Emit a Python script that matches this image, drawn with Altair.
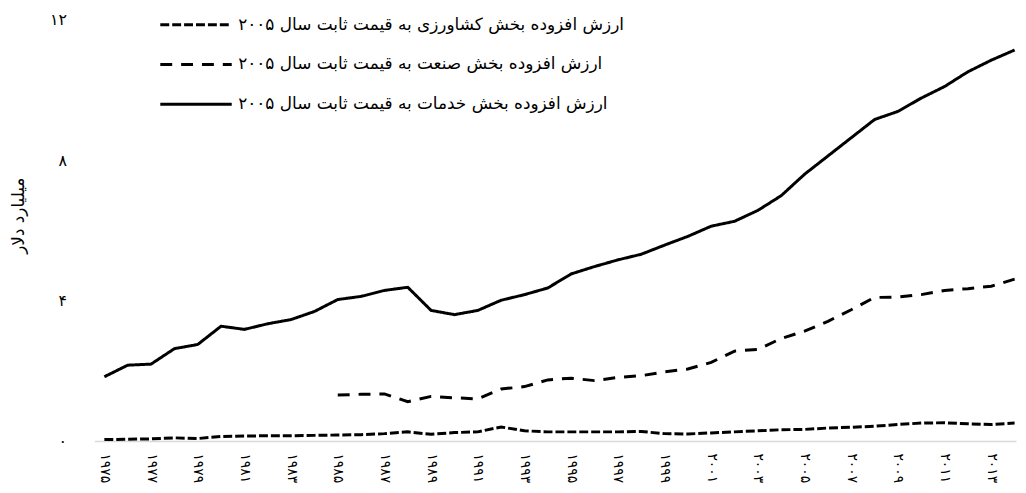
import altair as alt
import pandas as pd

years = list(range(1975, 2015))
industry_years = list(range(1985, 2015))

series_names = [
    "ارزش افزوده بخش کشاورزی به قیمت ثابت سال ۲۰۰۵",
    "ارزش افزوده بخش صنعت به قیمت ثابت سال ۲۰۰۵",
    "ارزش افزوده بخش خدمات به قیمت ثابت سال ۲۰۰۵",
]

agriculture = [0.04, 0.05, 0.06, 0.09, 0.07, 0.13, 0.14, 0.15, 0.15, 0.16,
               0.17, 0.18, 0.21, 0.26, 0.19, 0.24, 0.26, 0.40, 0.29, 0.26,
               0.26, 0.26, 0.26, 0.27, 0.21, 0.20, 0.23, 0.26, 0.29, 0.32,
               0.33, 0.37, 0.39, 0.42, 0.47, 0.51, 0.52, 0.49, 0.47, 0.51]

industry = [1.31, 1.33, 1.34, 1.12, 1.27, 1.23, 1.20, 1.48, 1.55, 1.74,
            1.79, 1.72, 1.81, 1.86, 1.97, 2.05, 2.24, 2.56, 2.61, 2.92,
            3.13, 3.41, 3.74, 4.09, 4.10, 4.17, 4.29, 4.34, 4.41, 4.61]

services = [1.83, 2.16, 2.19, 2.63, 2.75, 3.27, 3.18, 3.34, 3.46, 3.69,
            4.03, 4.12, 4.29, 4.38, 3.72, 3.60, 3.72, 4.01, 4.17, 4.36,
            4.76, 4.97, 5.16, 5.32, 5.58, 5.83, 6.12, 6.26, 6.57, 6.99,
            7.60, 8.12, 8.64, 9.16, 9.39, 9.77, 10.10, 10.52, 10.85, 11.14]

x_tick_years = list(range(1975, 2015, 2))
y_tick_values = [0, 4, 8, 12]
persian_digits = "۰۱۲۳۴۵۶۷۸۹"
y_title = "میلیارد دلار"

rows = []
for y, v in zip(years, agriculture):
    rows.append({"year": y, "value": v, "series": series_names[0]})
for y, v in zip(industry_years, industry):
    rows.append({"year": y, "value": v, "series": series_names[1]})
for y, v in zip(years, services):
    rows.append({"year": y, "value": v, "series": series_names[2]})
df = pd.DataFrame(rows)


def fa_expr(src="toString(datum.value)"):
    e = src
    for i, d in enumerate(persian_digits):
        e = f"join(split({e}, '{i}'), '{d}')"
    return e


FONT = "DejaVu Sans"

chart = alt.Chart(df).mark_line(strokeWidth=3, strokeCap="butt", color="black").encode(
    x=alt.X(
        "year:Q",
        scale=alt.Scale(domain=[1974.57, 2014.06], nice=False, zero=False),
        axis=alt.Axis(
            values=x_tick_years, labelExpr=fa_expr(), labelAngle=90,
            labelAlign="left", labelBaseline="middle", ticks=False, grid=False,
            domainColor="#d9d9d9", domainWidth=1.5, labelPadding=12,
            labelFontSize=14, labelFont=FONT, labelColor="black", title=None,
        ),
    ),
    y=alt.Y(
        "value:Q",
        scale=alt.Scale(domain=[0, 12], nice=False),
        axis=alt.Axis(
            values=y_tick_values, labelExpr=fa_expr(), ticks=False, grid=False,
            domain=False, labelPadding=28, labelFontSize=16, labelFont=FONT,
            labelColor="black", title=y_title, titleX=-76, titleY=197,
            titleAngle=270, titleAlign="center", titleBaseline="middle",
            titleFontSize=17, titleFontWeight="normal", titleFont=FONT,
            titleColor="black",
        ),
    ),
    strokeDash=alt.StrokeDash(
        "series:N",
        scale=alt.Scale(domain=series_names, range=[[9, 3], [12, 9], [1, 0]]),
        legend=alt.Legend(
            title=None, orient="none", legendX=65, legendY=-3,
            symbolType="stroke", symbolSize=5184, symbolStrokeWidth=3,
            symbolStrokeColor="black", clipHeight=16, rowPadding=23,
            labelFontSize=17, labelFont=FONT, labelColor="black",
            labelOffset=5, padding=0, labelLimit=600,
        ),
    ),
).properties(
    width=929,
    height=424.5,
    autosize=alt.AutoSizeParams(type="none"),
    padding={"left": 87, "top": 10, "right": 2, "bottom": 50},
    background="white",
).configure_view(strokeWidth=0)

chart.save("out.html", embed_options={"renderer": "svg", "actions": False})
